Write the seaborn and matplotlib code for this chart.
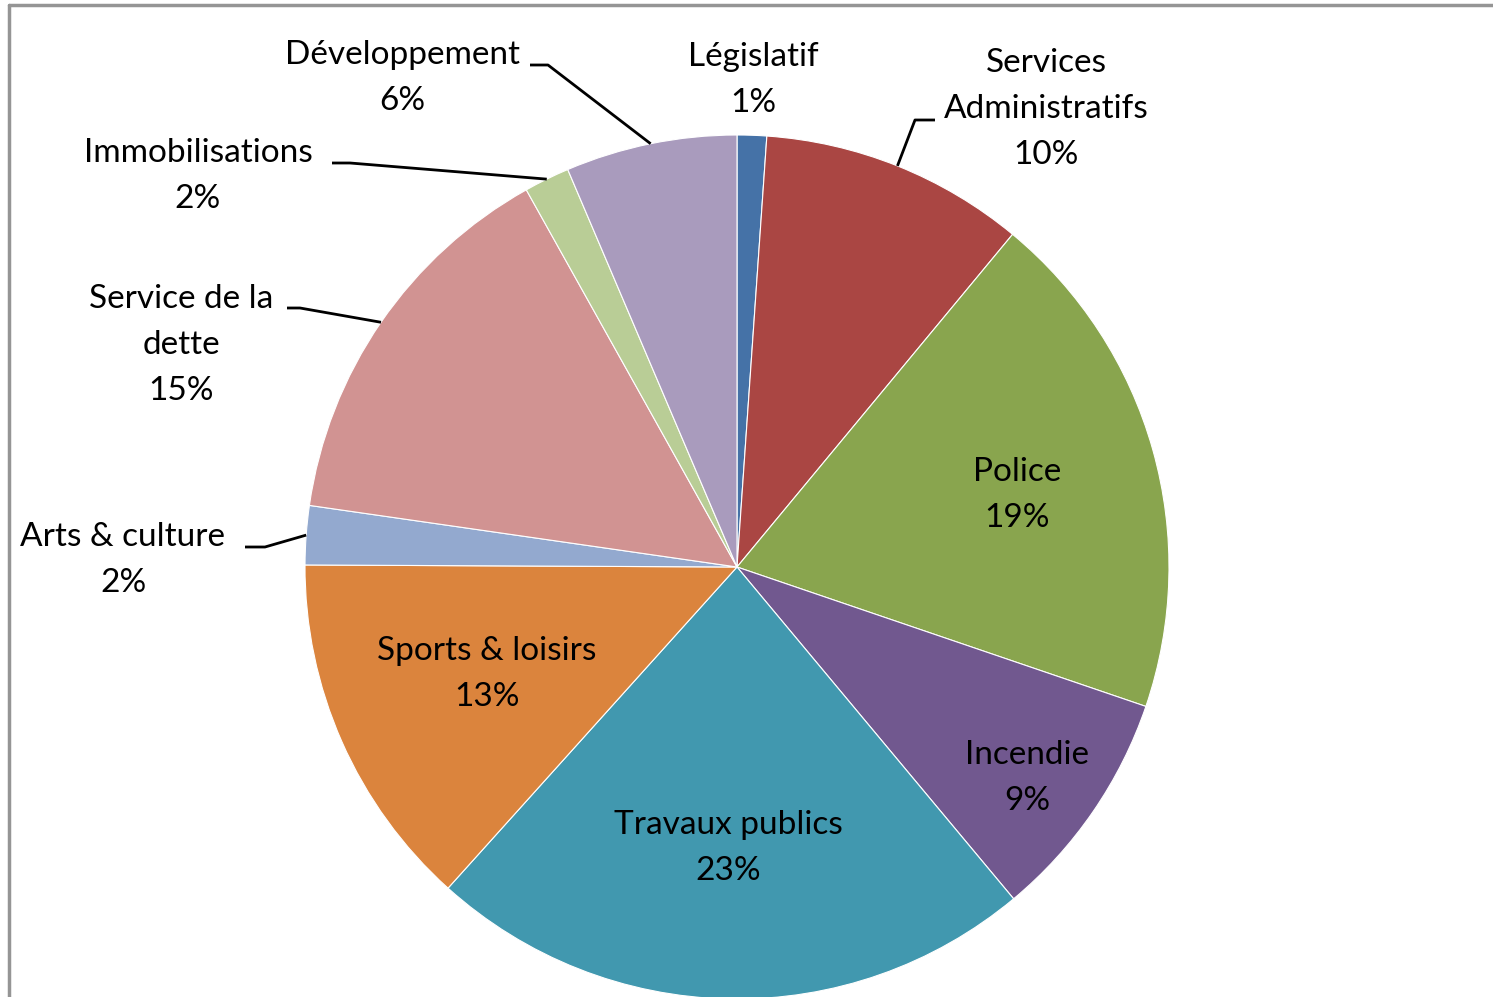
import numpy as np
import matplotlib
matplotlib.use("Agg")
import matplotlib.pyplot as plt
import seaborn as sns

# ---- data ----
categories = ["Législatif", "Services Administratifs", "Police", "Incendie",
              "Travaux publics", "Sports & loisirs", "Arts & culture",
              "Service de la dette", "Immobilisations", "Développement"]
values = [1.1, 9.9, 19.2, 8.7, 22.7, 13.4, 2.2, 14.6, 1.7, 6.4]
pct_labels = ["1%", "10%", "19%", "9%", "23%", "13%", "2%", "15%", "2%", "6%"]
label_text = ["Législatif", "Services\nAdministratifs", "Police", "Incendie",
              "Travaux publics", "Sports & loisirs", "Arts & culture",
              "Service de la\ndette", "Immobilisations", "Développement"]
colors = ["#4572A7", "#AA4643", "#89A54E", "#71588F", "#4198AF",
          "#DB843D", "#93A9CF", "#D19392", "#B9CD96", "#A99BBD"]

sns.set_theme(style="white")
plt.rcParams["font.family"] = ["Lato", "DejaVu Sans"]

W, H = 1493, 997
fig = plt.figure(figsize=(W / 100, H / 100), dpi=100)
ax = fig.add_axes([0, 0, 1, 1])
ax.set_xlim(0, W)
ax.set_ylim(0, H)

def Y(y):
    return H - y

cx, cy, R = 737, 567, 432
pal = sns.color_palette(colors)
wedges, _ = ax.pie(values, colors=pal, startangle=90, counterclock=False,
                   center=(cx, Y(cy)), radius=R,
                   wedgeprops=dict(edgecolor="white", linewidth=0.8))
ax.set_xlim(0, W)
ax.set_ylim(0, H)
ax.set_aspect("equal")
ax.axis("off")

# label layout: (x center, y center of block in px-from-top, leader start, elbow)
layout = {
    0: (753, 80, None, None),
    1: (1046, 109, (935, 120), (915, 120)),
    2: (1017, 495, None, None),
    3: (1027, 778, None, None),
    4: (728, 848, None, None),
    5: (487, 674, None, None),
    6: (123, 560, (245, 547), (265, 547)),
    7: (181, 345, (287, 308), (300, 308)),
    8: (198, 176, (332, 163), (350, 163)),
    9: (402, 78, (530, 65), (548, 65)),
}

fs = 24
for i, w in enumerate(wedges):
    x, y, p0, p1 = layout[i]
    txt = label_text[i] + "\n" + pct_labels[i]
    ax.text(x, Y(y), txt, ha="center", va="center", multialignment="center",
            fontsize=fs, color="black", linespacing=1.68)
    if p0 is not None:
        mid = np.deg2rad((w.theta1 + w.theta2) / 2)
        ex = cx + R * np.cos(mid)
        ey = Y(cy) + R * np.sin(mid)
        ax.plot([p0[0], p1[0], ex], [Y(p0[1]), Y(p1[1]), ey],
                color="black", lw=2, solid_capstyle="butt")

# outer chart frame (partially cropped)
fig.add_artist(plt.Line2D([9 / W, 9 / W], [0, 1 - 5 / H], transform=fig.transFigure,
                          color="#959595", lw=2.5))
fig.add_artist(plt.Line2D([9 / W, 1], [1 - 5 / H, 1 - 5 / H], transform=fig.transFigure,
                          color="#959595", lw=2.5))

fig.savefig("out.png", dpi=100, facecolor="white")
